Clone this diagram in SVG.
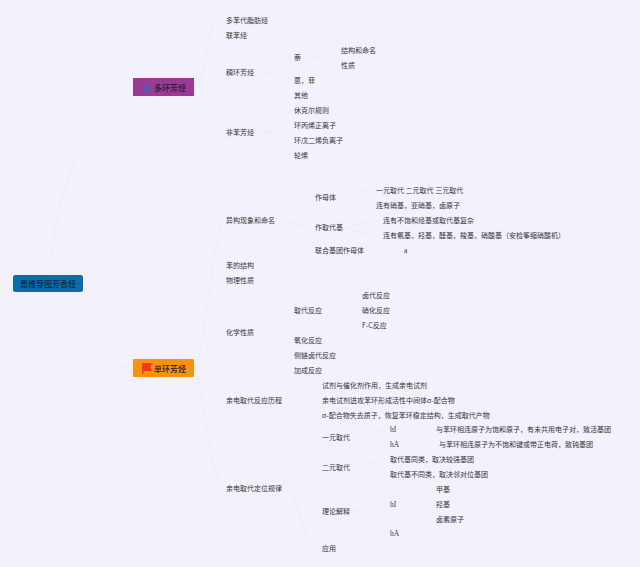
<svg xmlns="http://www.w3.org/2000/svg" width="640" height="567" viewBox="0 0 640 567">
<style>
text{font-family:"Noto Sans CJK SC","Liberation Sans",sans-serif;font-size:7px;fill:#333336}
.s{font-family:"Liberation Serif","Noto Sans CJK SC",serif;font-size:7.5px}
.m{font-size:8px;font-weight:500;fill:#2a1a30}
.r{font-size:8px;font-weight:500;fill:#0c2a40}
path{fill:none;stroke:#eeedf5;stroke-width:1}
</style>
<rect width="640" height="567" fill="#f3f2fc"/>
<g id="connectors">
<path d="M50 276C54 190 90 105 133 88"/>
<path d="M52 304C65 335 100 360 133 369"/>
<path d="M194 88C205 84 208 30 214 22"/>
<path d="M194 88C205 88 210 74 222 72"/>
<path d="M194 100C202 105 206 125 222 132"/>
<path d="M194 369C206 350 208 270 222 220"/>
<path d="M194 369C204 360 212 340 222 332"/>
<path d="M194 369C205 378 212 396 222 400"/>
<path d="M197 369C205 420 212 470 222 488"/>
<path d="M262 72C272 74 280 78 290 82"/>
<path d="M262 72C272 68 280 60 290 58"/>
<path d="M262 132C272 132 280 130 290 110"/>
<path d="M262 132C272 134 280 138 290 140"/>
<path d="M309 58C320 56 328 52 338 50"/>
<path d="M309 58C320 60 328 64 338 65"/>
<path d="M283 220C295 210 300 200 312 197"/>
<path d="M283 220C295 224 302 226 312 228"/>
<path d="M283 220C292 232 300 245 312 250"/>
<path d="M345 197C355 196 362 190 372 190"/>
<path d="M345 197C355 198 362 204 372 205"/>
<path d="M345 228C355 226 365 222 378 221"/>
<path d="M345 228C355 230 365 234 378 235"/>
<path d="M364 250H396"/>
<path d="M262 332C272 330 280 312 290 310"/>
<path d="M262 332C272 336 278 365 290 370"/>
<path d="M328 310C340 308 350 296 358 295"/>
<path d="M328 310H358"/>
<path d="M290 400H318"/>
<path d="M290 488C300 480 305 445 318 437"/>
<path d="M290 488C298 495 305 505 318 511"/>
<path d="M292 488C298 510 305 535 312 548"/>
<path d="M352 437C362 436 375 430 385 430"/>
<path d="M352 511C362 510 375 505 385 503"/>
<path d="M352 511C365 514 375 525 385 533"/>
<path d="M352 467C362 466 375 460 385 460"/>
<path d="M402 430H430"/>
<path d="M405 504C415 502 422 492 432 490"/>
</g>
<g id="root"><rect x="13" y="275" width="70" height="17" rx="2.5" fill="#0a6eaa"/><text class="r" x="20" y="287">思维导图芳香烃</text></g>
<g id="n-polycyclic"><rect x="133" y="78" width="61" height="18" fill="#9a3a92"/><polygon points="147,83 148.6,86.6 152,87 149.5,89.6 150.2,93 147,91.3 143.8,93 144.5,89.6 142,87 145.4,86.6" fill="#4c5fb0"/><text class="m" x="154" y="91">多环芳烃</text></g>
<g id="n-monocyclic"><rect x="133" y="359" width="61" height="18" rx="1" fill="#f7930e"/><path d="M142 363H152L150.500 367.500L152 371H143.500V374H142Z" style="fill:#ee3a1e;stroke:none"/><text class="m" x="154" y="372">单环芳烃</text></g>
<g id="labels">
<text x="226" y="23">多苯代脂肪烃</text>
<text x="226" y="38">联苯烃</text>
<text x="226" y="75">稠环芳烃</text>
<text x="226" y="135">非苯芳烃</text>
<text x="294" y="60">萘</text>
<text x="294" y="83">蒽，菲</text>
<text x="294" y="98">其他</text>
<text x="294" y="113">休克尔规则</text>
<text x="294" y="128">环丙烯正离子</text>
<text x="294" y="143">环戊二烯负离子</text>
<text x="294" y="158">轮烯</text>
<text x="341" y="53">结构和命名</text>
<text x="341" y="68">性质</text>
<text x="226" y="223">异构现象和命名</text>
<text x="315" y="200">作母体</text>
<text x="315" y="230">作取代基</text>
<text x="315" y="253">联合基团作母体</text>
<text x="376" y="193">一元取代 二元取代 三元取代</text>
<text x="376" y="208">连有硝基，亚硝基，卤原子</text>
<text x="383" y="223">连有不饱和烃基或取代基复杂</text>
<text x="383" y="238">连有氨基，羟基，醛基，羧基，硝酸基（安检筝缩硝酸机）</text>
<text class="s" x="404" y="253">a</text>
<text x="226" y="268">苯的结构</text>
<text x="226" y="283">物理性质</text>
<text x="226" y="335">化学性质</text>
<text x="294" y="313">取代反应</text>
<text x="294" y="343">氧化反应</text>
<text x="294" y="358">侧链卤代反应</text>
<text x="294" y="373">加成反应</text>
<text x="362" y="298">卤代反应</text>
<text x="362" y="313">硝化反应</text>
<text x="362" y="328">F-C反应</text>
<text x="226" y="403">亲电取代反应历程</text>
<text x="322" y="388">试剂与催化剂作用，生成亲电试剂</text>
<text x="322" y="403">亲电试剂进攻苯环形成活性中间体σ-配合物</text>
<text x="322" y="418">σ-配合物失去质子，恢复苯环稳定结构，生成取代产物</text>
<text x="226" y="491">亲电取代定位规律</text>
<text x="322" y="440">一元取代</text>
<text x="322" y="470">二元取代</text>
<text x="322" y="514">理论解释</text>
<text x="322" y="551">应用</text>
<text class="s" x="390" y="432">hI</text>
<text class="s" x="390" y="447">hA</text>
<text x="436" y="432">与苯环相连原子为饱和原子，有未共用电子对，致活基团</text>
<text x="439" y="447">与苯环相连原子为不饱和键或带正电荷，致钝基团</text>
<text x="390" y="462">取代基同类，取决较强基团</text>
<text x="390" y="477">取代基不同类，取决邻对位基团</text>
<text class="s" x="390" y="507">hI</text>
<text class="s" x="390" y="536">hA</text>
<text x="436" y="492">甲基</text>
<text x="436" y="507">羟基</text>
<text x="436" y="522">卤素原子</text>
</g>
</svg>
